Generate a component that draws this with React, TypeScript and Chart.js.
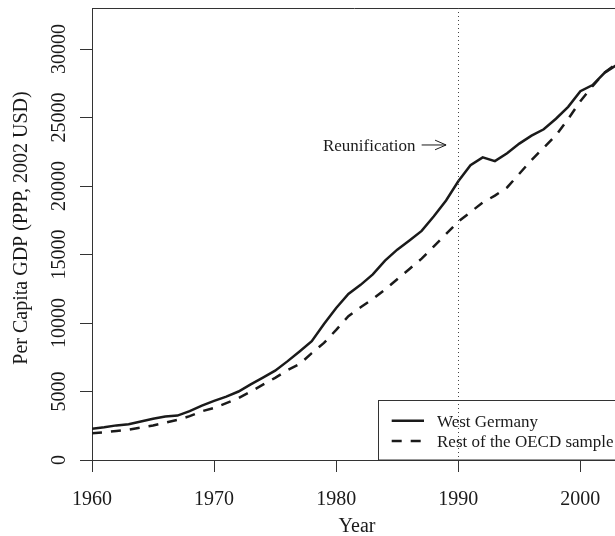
import React, { useEffect, useRef } from "react";
import { Chart, registerables } from "chart.js";

Chart.register(...registerables);

const years = [
  1960, 1961, 1962, 1963, 1964, 1965, 1966, 1967, 1968, 1969,
  1970, 1971, 1972, 1973, 1974, 1975, 1976, 1977, 1978, 1979,
  1980, 1981, 1982, 1983, 1984, 1985, 1986, 1987, 1988, 1989,
  1990, 1991, 1992, 1993, 1994, 1995, 1996, 1997, 1998, 1999,
  2000, 2001, 2002, 2003,
];

const westGermany = [
  2284, 2388, 2527, 2610, 2806, 3005, 3168, 3241, 3571, 3976,
  4313, 4630, 5000, 5521, 6010, 6521, 7200, 7924, 8675, 9934,
  11095, 12124, 12786, 13554, 14551, 15358, 16034, 16726, 17793, 18951,
  20351, 21523, 22096, 21820, 22393, 23101, 23684, 24144, 24913, 25787,
  26922, 27375, 28285, 28855,
];

const restOECD = [
  1950, 2030, 2120, 2220, 2370, 2520, 2720, 2930, 3200, 3560,
  3800, 4150, 4520, 4990, 5500, 6000, 6550, 7000, 7800, 8550,
  9500, 10500, 11150, 11750, 12450, 13200, 13950, 14700, 15600, 16500,
  17400, 18100, 18800, 19300, 19900, 20900, 21900, 22800, 23700, 24900,
  26200, 27300, 28300, 28950,
];

const seriesLabels = ["West Germany", "Rest of the OECD sample"];
const xTicks = [1960, 1970, 1980, 1990, 2000];
const yTicks = [0, 5000, 10000, 15000, 20000, 25000, 30000];
const xRange = [1960, 2003];
const yRange = [0, 33000];
const xTitle = "Year";
const yTitle = "Per Capita GDP (PPP, 2002 USD)";
const reunificationYear = 1990;
const annotationText = "Reunification";
const annotationTextX = 1982.7;
const annotationArrowX = [1987, 1989];
const annotationY = 23000;

const FONT = '"Liberation Serif", "Times New Roman", serif';
const INK = "#1a1a1a";

const overlayPlugin = {
  id: "overlay",
  afterDraw(chart: any) {
    const { ctx, chartArea, scales } = chart;
    const xs = scales.x;
    const ys = scales.y;
    ctx.save();

    // top border of the box
    ctx.strokeStyle = "#333";
    ctx.lineWidth = 1;
    ctx.beginPath();
    ctx.moveTo(chartArea.left, Math.round(chartArea.top) + 0.5);
    ctx.lineTo(chartArea.right, Math.round(chartArea.top) + 0.5);
    ctx.stroke();

    // dotted reunification line
    const rx = Math.round(xs.getPixelForValue(reunificationYear)) + 0.5;
    ctx.strokeStyle = "#444";
    ctx.setLineDash([1, 3]);
    ctx.beginPath();
    ctx.moveTo(rx, chartArea.top);
    ctx.lineTo(rx, chartArea.bottom);
    ctx.stroke();
    ctx.setLineDash([]);

    ctx.fillStyle = INK;
    // y tick labels (rotated)
    ctx.font = `20px ${FONT}`;
    for (const t of yTicks) {
      const py = ys.getPixelForValue(t);
      ctx.save();
      ctx.translate(65, py);
      ctx.rotate(-Math.PI / 2);
      ctx.textAlign = "center";
      ctx.textBaseline = "alphabetic";
      ctx.fillText(String(t), 0, 0);
      ctx.restore();
    }
    // x tick labels
    ctx.textAlign = "center";
    ctx.textBaseline = "alphabetic";
    for (const t of xTicks) {
      ctx.fillText(String(t), xs.getPixelForValue(t), 505);
    }
    // axis titles
    ctx.fillText(xTitle, (chartArea.left + chartArea.right) / 2 + 2.5, 532);
    ctx.save();
    ctx.translate(26.5, 228);
    ctx.rotate(-Math.PI / 2);
    ctx.fillText(yTitle, 0, 0);
    ctx.restore();

    // annotation
    ctx.font = `17px ${FONT}`;
    const ay = ys.getPixelForValue(annotationY);
    ctx.textAlign = "center";
    ctx.fillText(annotationText, xs.getPixelForValue(annotationTextX), ay + 6);
    const ax0 = xs.getPixelForValue(annotationArrowX[0]);
    const ax1 = xs.getPixelForValue(annotationArrowX[1]);
    ctx.strokeStyle = INK;
    ctx.lineWidth = 1;
    ctx.beginPath();
    ctx.moveTo(ax0, ay);
    ctx.lineTo(ax1, ay);
    ctx.moveTo(ax1 - 11, ay - 4.8);
    ctx.lineTo(ax1, ay);
    ctx.lineTo(ax1 - 11, ay + 4.8);
    ctx.stroke();

    // legend
    const boxLeft = chartArea.right - 239.3;
    const boxTop = 400.5;
    ctx.strokeStyle = "#333";
    ctx.lineWidth = 1;
    ctx.strokeRect(Math.round(boxLeft) + 0.5, boxTop, chartArea.right - boxLeft + 5, chartArea.bottom - boxTop);
    const ds = chart.data.datasets;
    const rowYs = [420.7, 441];
    ds.forEach((d: any, i: number) => {
      const ly = rowYs[i];
      ctx.strokeStyle = d.borderColor;
      ctx.lineWidth = d.borderWidth;
      ctx.setLineDash(d.borderDash || []);
      ctx.beginPath();
      ctx.moveTo(boxLeft + 14, ly);
      ctx.lineTo(boxLeft + 46.3, ly);
      ctx.stroke();
      ctx.setLineDash([]);
      ctx.fillStyle = INK;
      ctx.textAlign = "left";
      ctx.fillText(d.label, boxLeft + 59.3, ly + 6);
    });

    ctx.restore();
  },
};

export default function App() {
  const canvasRef = useRef<HTMLCanvasElement | null>(null);

  useEffect(() => {
    const canvas = canvasRef.current;
    if (!canvas) return;
    const chart = new Chart(canvas, {
      type: "line",
      data: {
        datasets: [
          {
            label: seriesLabels[0],
            data: years.map((yr, i) => ({ x: yr, y: westGermany[i] })),
            borderColor: INK,
            borderWidth: 2.5,
            pointRadius: 0,
            tension: 0,
            fill: false,
          },
          {
            label: seriesLabels[1],
            data: years.map((yr, i) => ({ x: yr, y: restOECD[i] })),
            borderColor: INK,
            borderWidth: 2.5,
            borderDash: [10, 9],
            pointRadius: 0,
            tension: 0,
            fill: false,
          },
        ],
      },
      options: {
        responsive: false,
        animation: false,
        devicePixelRatio: 1,
        layout: { padding: { left: 0, top: 8, right: 23, bottom: 0 } },
        plugins: { legend: { display: false }, tooltip: { enabled: false }, title: { display: false } },
        scales: {
          x: {
            type: "linear",
            min: xRange[0],
            max: xRange[1],
            afterBuildTicks: (s: any) => {
              s.ticks = xTicks.map((v) => ({ value: v }));
            },
            afterFit: (s: any) => {
              s.height = 76;
            },
            ticks: { display: false },
            grid: { display: true, drawOnChartArea: false, drawTicks: true, tickLength: 12, color: "#333", lineWidth: 1 },
            border: { display: true, color: "#333", width: 1 },
          },
          y: {
            type: "linear",
            min: yRange[0],
            max: yRange[1],
            afterBuildTicks: (s: any) => {
              s.ticks = yTicks.map((v) => ({ value: v }));
            },
            afterFit: (s: any) => {
              s.width = 92;
            },
            ticks: { display: false },
            grid: { display: true, drawOnChartArea: false, drawTicks: true, tickLength: 12, color: "#333", lineWidth: 1 },
            border: { display: true, color: "#333", width: 1 },
          },
        },
      },
      plugins: [overlayPlugin],
    } as any);
    return () => chart.destroy();
  }, []);

  return (
    <div
      style={{
        position: "fixed",
        left: 0,
        top: 0,
        width: 615,
        height: 536,
        overflow: "hidden",
        background: "#fff",
      }}
    >
      <canvas ref={canvasRef} width={640} height={536} style={{ display: "block" }} />
    </div>
  );
}
